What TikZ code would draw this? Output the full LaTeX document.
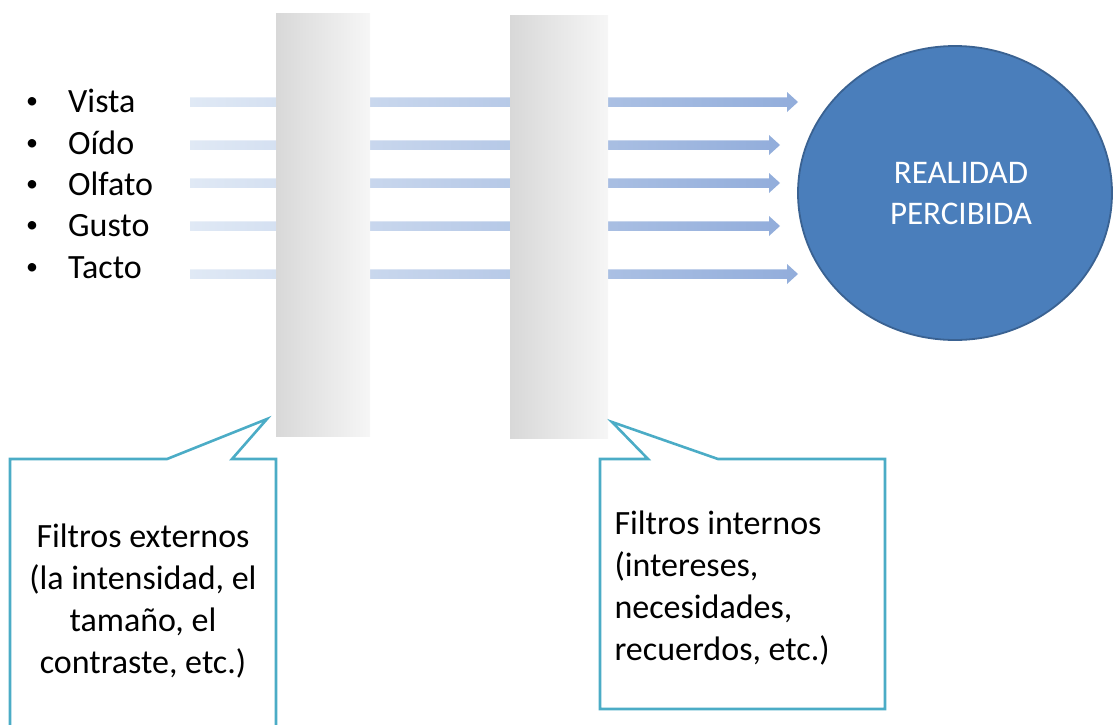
\documentclass[tikz,border=0pt]{standalone}
\usepackage{fontspec}
\setmainfont{Carlito}
\usetikzlibrary{shapes.geometric}

\definecolor{flowlight}{HTML}{E0E9F5}
\definecolor{flowdark}{HTML}{92ADDB}
\definecolor{filterdark}{HTML}{D8D8D8}
\definecolor{filterlight}{HTML}{F6F6F6}
\definecolor{realfill}{HTML}{4A7EBB}
\definecolor{realedge}{HTML}{3A6292}
\definecolor{callout}{HTML}{4BACC6}

\begin{document}
\begin{tikzpicture}[x=1pt, y=-1pt,
    bigtext/.style={font=\fontsize{34}{42}\selectfont},
    sense/.style={bigtext, anchor=base west, inner sep=0pt},
    filterbar/.style={left color=filterdark, right color=filterlight},
    flow/.style={left color=flowlight, right color=flowdark},
    bubble/.style={draw=callout, line width=2.6pt, fill=white, line join=miter}]
        \useasboundingbox (0,0) rectangle (1114,724);
        \clip (0,0) rectangle (1114,724);

        % Senses
        \foreach \name/\txt/\base in {vista/Vista/112, oido/Oído/154, olfato/Olfato/195, gusto/Gusto/236, tacto/Tacto/278} {
            \node[anchor=base west, inner sep=0pt, font=\fontsize{24}{24}\selectfont] (b\name) at (26,\base-4) {\textbullet};
            \node[sense] (\name) at (68,\base) {\txt};
        }

        % Stimulus arrows (the bars are drawn over them)
        \foreach \y/\tip in {102/798, 145/780, 183/780, 226/780, 274/798} {
            \shade[flow] (190,\y-4.75) -- (\tip-11,\y-4.75) -- (\tip-11,\y-10) -- (\tip,\y)
                -- (\tip-11,\y+10) -- (\tip-11,\y+4.75) -- (190,\y+4.75) -- cycle;
        }

        % Filters
        \shade[filterbar] (276,13) rectangle (370,436);
        \shade[filterbar] (510,15) rectangle (608,438);

        % Perceived reality
        \node[ellipse, draw=realedge, line width=1.8pt, fill=realfill,
              minimum width=314pt, minimum height=294pt, inner sep=0pt] (real) at (955,193) {};
        \node[text=white, align=center, font=\fontsize{33}{41}\selectfont] (realtxt) at (961,194) {REALIDAD\\PERCIBIDA};

        % Callouts
        \draw[bubble] (10,459) -- (167,459) -- (267,419) -- (232,459) -- (276,459)
            -- (276,760) -- (10,760) -- cycle;
        \node[bigtext, align=center] (externos) at (143,601)
            {Filtros externos\\(la intensidad, el\\tamaño, el\\contraste, etc.)};

        \draw[bubble] (600,459) -- (648,459) -- (612,422) -- (718,459) -- (885,459)
            -- (885,709) -- (600,709) -- cycle;
        \node[bigtext, align=left, anchor=west] (internos) at (611,588)
            {Filtros internos\\(intereses,\\necesidades,\\recuerdos, etc.)};

    \end{tikzpicture}
\end{document}
